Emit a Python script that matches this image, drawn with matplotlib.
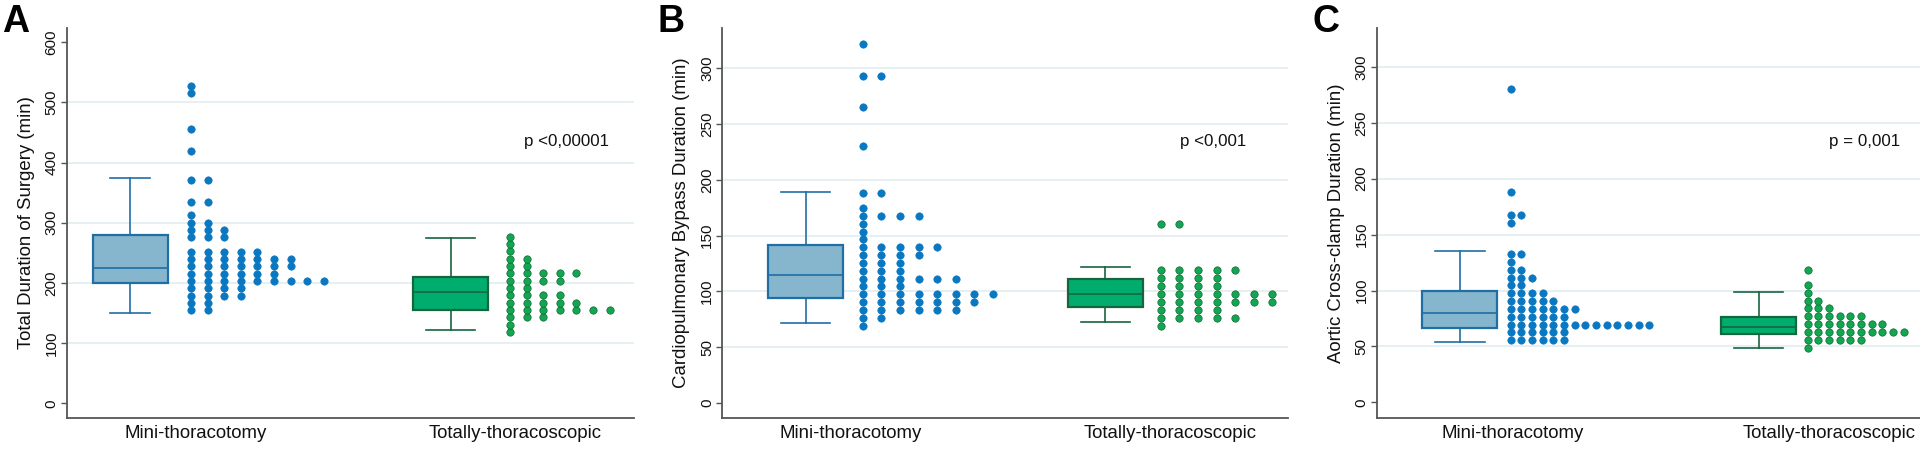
import matplotlib
matplotlib.use("Agg")
import matplotlib.pyplot as plt
from matplotlib.transforms import blended_transform_factory

plt.rcParams['font.family'] = ['Liberation Sans', 'DejaVu Sans']

# ---- data (binned dot rows: bin value -> number of dots) ----
groups = ["Mini-thoracotomy", "Totally-thoracoscopic"]

surgery_mini_vals = [155, 167, 179, 191, 203, 215, 228, 240, 252, 276, 288, 300, 313, 335, 371, 419, 456, 515, 527]
surgery_mini_cnts = [2, 2, 4, 4, 9, 6, 7, 7, 5, 3, 3, 2, 1, 2, 2, 1, 1, 1, 1]
surgery_tt_vals = [118.5, 130.7, 142.9, 155.1, 167.2, 179.5, 191.6, 203.8, 216.1, 228.2, 240.4, 252.6, 264.8, 276.9]
surgery_tt_cnts = [1, 1, 3, 7, 5, 4, 2, 4, 5, 2, 2, 1, 1, 1]

cpb_mini_vals = [69.2, 76.1, 83.3, 90.2, 97.6, 104.5, 111.3, 118.5, 125.6, 132.8, 140.0, 146.9, 153.7, 160.9, 167.7, 174.6, 188.3, 230.4, 265.4, 293.1, 321.5]
cpb_mini_cnts = [1, 2, 6, 7, 8, 3, 6, 3, 3, 4, 5, 1, 1, 1, 4, 1, 2, 1, 1, 2, 1]
cpb_tt_vals = [69.0, 76.1, 83.3, 90.4, 97.6, 104.8, 111.9, 119.1, 160.3]
cpb_tt_cnts = [1, 5, 4, 7, 7, 4, 4, 5, 2]

clamp_mini_vals = [56.0, 62.6, 69.4, 76.5, 83.4, 90.8, 97.7, 104.8, 111.4, 118.5, 125.6, 132.5, 160.2, 167.4, 188.2, 280.0]
clamp_mini_cnts = [6, 6, 14, 6, 7, 5, 4, 2, 3, 2, 1, 2, 1, 2, 1, 1]
clamp_tt_vals = [48.8, 56.0, 63.1, 70.0, 76.9, 84.0, 90.8, 97.7, 104.8, 118.5]
clamp_tt_cnts = [1, 6, 10, 8, 6, 3, 2, 1, 1, 1]

# box stats: whisker low, q1, median, q3, whisker high
surgery_box = [(149.6, 200.0, 224.9, 279.2, 374.4), (121.8, 154.6, 185.0, 209.4, 275.3)]
cpb_box = [(71.9, 94.3, 114.9, 141.5, 189.0), (72.8, 86.0, 97.3, 111.0, 122.1)]
clamp_box = [(53.6, 66.4, 79.5, 99.2, 135.5), (48.5, 61.3, 67.0, 76.5, 98.6)]

ylabels = ["Total Duration of Surgery (min)",
           "Cardiopulmonary Bypass Duration (min)",
           "Aortic Cross-clamp Duration (min)"]
pvalues = ["p <0,00001", "p <0,001", "p = 0,001"]
letters = ["A", "B", "C"]
yticks = [list(range(0, 601, 100)), list(range(0, 301, 50)), list(range(0, 301, 50))]
ygrid = [list(range(100, 501, 100)), list(range(50, 301, 50)), list(range(50, 301, 50))]
ylims = [(-25, 624), (-13.7, 336.4), (-14.3, 335.1)]

# ---- layout (pixels) ----
W, H = 1920, 450
ax_left = [67, 722.3, 1377]
ax_width = [567, 565.7, 543]
ax_bottom, ax_top = 418.3, 27.7
label_pos = [(129, 448), (128.5, 448.2), (136, 452)]
box_pos = [(63, 383.5), (83.5, 382.9), (82.5, 381.8)]
cap_w = [(40, 49), (49, 49), (50, 49)]
dot_start = [(124, 443), (140.4, 438.4), (133.7, 430.7)]
dot_step = [16.6, 18.6, 10.65]
ptext_x = [500, 491, 488]

blue_dot, blue_box_fc, blue_box_ec = "#0A78C1", "#86B6CD", "#1F6FA5"
green_dot, green_dot_ec, green_box_fc, green_box_ec = "#13A54F", "#0C6A38", "#00AD6E", "#17653F"
txt = "#111111"

panels = [
    (surgery_mini_vals, surgery_mini_cnts, surgery_tt_vals, surgery_tt_cnts, surgery_box),
    (cpb_mini_vals, cpb_mini_cnts, cpb_tt_vals, cpb_tt_cnts, cpb_box),
    (clamp_mini_vals, clamp_mini_cnts, clamp_tt_vals, clamp_tt_cnts, clamp_box),
]

fig = plt.figure(figsize=(W / 100, H / 100), dpi=100)

for k, (mv, mc, tv, tc, boxes) in enumerate(panels):
    ax = fig.add_axes([ax_left[k] / W, 1 - ax_bottom / H,
                       ax_width[k] / W, (ax_bottom - ax_top) / H])
    ax.set_xlim(0, ax_width[k])
    ax.set_ylim(*ylims[k])

    for g in ygrid[k]:
        ax.axhline(g, color="#E2EEF1", lw=1.2, zorder=0)

    # boxes
    cols = [(blue_box_fc, blue_box_ec), (green_box_fc, green_box_ec)]
    for j, st in enumerate(boxes):
        stats = [dict(whislo=st[0], q1=st[1], med=st[2], q3=st[3], whishi=st[4], fliers=[])]
        fc, ec = cols[j]
        ax.bxp(stats, positions=[box_pos[k][j]], widths=75, capwidths=cap_w[k][j],
               patch_artist=True, showfliers=False, manage_ticks=False,
               boxprops=dict(facecolor=fc, edgecolor=ec, linewidth=1.6),
               medianprops=dict(color=ec, linewidth=1.2),
               whiskerprops=dict(color=ec, linewidth=1.2),
               capprops=dict(color=ec, linewidth=1.2))

    # dot rows
    series = [(mv, mc, blue_dot, blue_dot), (tv, tc, green_dot, green_dot_ec)]
    for j, (vals, cnts, fc, ec) in enumerate(series):
        xs, ys = [], []
        for v, n in zip(vals, cnts):
            for i in range(n):
                xs.append(dot_start[k][j] + i * dot_step[k])
                ys.append(v)
        ax.plot(xs, ys, "o", ms=5.3, mfc=fc, mec=ec, mew=0.5, zorder=3, clip_on=False)

    ax.text(ptext_x[k], 0.708, pvalues[k],
            transform=blended_transform_factory(ax.transData, ax.transAxes),
            fontsize=12.2, ha="center", va="center", color=txt)

    ax.set_xticks(label_pos[k])
    ax.set_xticklabels(groups, fontsize=13.4, color=txt)
    ax.tick_params(axis="x", length=0, pad=5)
    ax.set_yticks(yticks[k])
    ax.set_yticklabels([str(t) for t in yticks[k]], rotation=90, va="center", fontsize=11, color=txt)
    ax.tick_params(axis="y", length=4, width=1, color="#555555", pad=2)
    ax.set_ylabel(ylabels[k], fontsize=13.4, color=txt, va="center")
    ax.yaxis.set_label_coords(-40.5 / ax_width[k], 0.5)

    for s in ["top", "right"]:
        ax.spines[s].set_visible(False)
    for s in ["left", "bottom"]:
        ax.spines[s].set_color("#555555")
        ax.spines[s].set_linewidth(1.3)

    fig.text((ax_left[k] - 64.5) / W, 1 - 4 / H, letters[k], fontsize=27, fontweight="bold",
             ha="left", va="top")

fig.savefig("out.png", dpi=100, facecolor="white")
